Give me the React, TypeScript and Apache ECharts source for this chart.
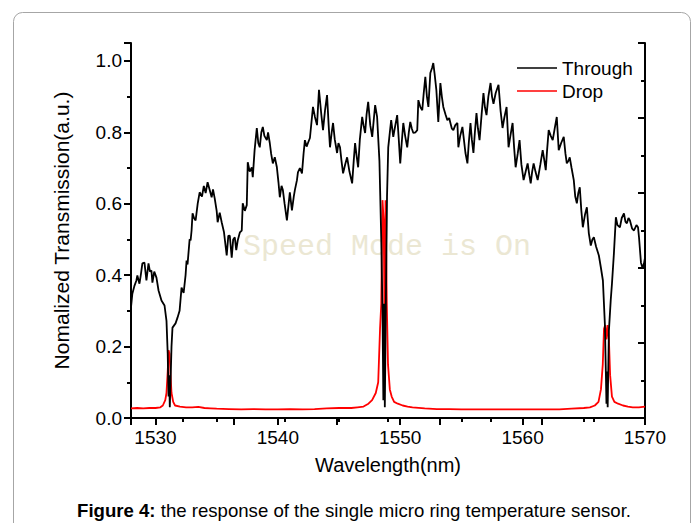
import React, { useEffect, useRef } from "react";
import * as echarts from "echarts";

const seriesNames = ["Through", "Drop"];
const seriesColors = ["#000000", "#ff0000"];

const throughPoints: [number, number][] = [
  [1528.0, 0.31], [1528.11, 0.348], [1528.28, 0.37], [1528.44, 0.385], [1528.52, 0.399], [1528.69, 0.376],
  [1528.8, 0.4], [1528.93, 0.433], [1529.1, 0.435], [1529.26, 0.385], [1529.43, 0.433], [1529.55, 0.41],
  [1529.67, 0.413], [1529.75, 0.379], [1529.9, 0.41], [1530.08, 0.393], [1530.25, 0.357], [1530.49, 0.329],
  [1530.74, 0.315], [1530.9, 0.272], [1531.0, 0.18], [1531.07, 0.06], [1531.12, 0.12], [1531.17, 0.03],
  [1531.23, 0.1], [1531.31, 0.2], [1531.39, 0.253], [1531.64, 0.265], [1531.8, 0.281], [1531.97, 0.3],
  [1532.13, 0.365], [1532.3, 0.35], [1532.46, 0.4], [1532.54, 0.441], [1532.62, 0.43], [1532.79, 0.5],
  [1532.87, 0.497], [1532.95, 0.525], [1533.03, 0.573], [1533.15, 0.56], [1533.28, 0.553], [1533.45, 0.6],
  [1533.61, 0.632], [1533.8, 0.62], [1533.95, 0.65], [1534.1, 0.63], [1534.26, 0.66], [1534.42, 0.64],
  [1534.59, 0.618], [1534.7, 0.64], [1534.84, 0.615], [1535.0, 0.58], [1535.08, 0.548], [1535.25, 0.575],
  [1535.41, 0.548], [1535.6, 0.52], [1535.82, 0.455], [1535.95, 0.51], [1536.07, 0.511], [1536.23, 0.449],
  [1536.35, 0.5], [1536.48, 0.506], [1536.6, 0.47], [1536.72, 0.497], [1536.9, 0.52], [1537.05, 0.525],
  [1537.13, 0.601], [1537.3, 0.58], [1537.46, 0.596], [1537.54, 0.716], [1537.7, 0.69], [1537.87, 0.702],
  [1537.95, 0.674], [1538.1, 0.75], [1538.28, 0.812], [1538.4, 0.77], [1538.52, 0.758], [1538.65, 0.8],
  [1538.77, 0.815], [1538.9, 0.79], [1539.1, 0.778], [1539.2, 0.8], [1539.34, 0.77], [1539.45, 0.74],
  [1539.59, 0.713], [1539.75, 0.73], [1539.92, 0.702], [1540.05, 0.66], [1540.16, 0.618], [1540.3, 0.65],
  [1540.41, 0.638], [1540.55, 0.6], [1540.74, 0.553], [1540.85, 0.59], [1540.98, 0.632], [1541.15, 0.581],
  [1541.3, 0.62], [1541.39, 0.638], [1541.56, 0.666], [1541.64, 0.688], [1541.8, 0.7], [1541.97, 0.685],
  [1542.1, 0.74], [1542.21, 0.778], [1542.35, 0.76], [1542.46, 0.77], [1542.62, 0.784], [1542.87, 0.871],
  [1543.03, 0.843], [1543.2, 0.82], [1543.36, 0.919], [1543.55, 0.85], [1543.69, 0.806], [1543.85, 0.86],
  [1544.02, 0.904], [1544.15, 0.82], [1544.26, 0.758], [1544.4, 0.8], [1544.51, 0.826], [1544.65, 0.78],
  [1544.84, 0.742], [1544.95, 0.77], [1545.08, 0.758], [1545.2, 0.72], [1545.33, 0.685], [1545.5, 0.71],
  [1545.66, 0.73], [1545.85, 0.69], [1546.07, 0.657], [1546.2, 0.72], [1546.31, 0.77], [1546.45, 0.73],
  [1546.56, 0.702], [1546.7, 0.78], [1546.89, 0.843], [1547.0, 0.82], [1547.13, 0.798], [1547.25, 0.85],
  [1547.38, 0.885], [1547.55, 0.82], [1547.71, 0.787], [1547.85, 0.84], [1547.95, 0.876], [1548.11, 0.843],
  [1548.3, 0.72], [1548.45, 0.5], [1548.55, 0.3], [1548.62, 0.05], [1548.68, 0.32], [1548.74, 0.03],
  [1548.82, 0.3], [1548.92, 0.62], [1549.02, 0.758], [1549.15, 0.8], [1549.26, 0.834], [1549.43, 0.787],
  [1549.6, 0.82], [1549.75, 0.848], [1549.88, 0.78], [1550.0, 0.713], [1550.12, 0.77], [1550.25, 0.826],
  [1550.4, 0.79], [1550.57, 0.758], [1550.7, 0.8], [1550.82, 0.829], [1550.95, 0.81], [1551.07, 0.798],
  [1551.25, 0.8], [1551.39, 0.806], [1551.48, 0.89], [1551.65, 0.87], [1551.8, 0.862], [1551.92, 0.91],
  [1552.05, 0.955], [1552.18, 0.9], [1552.3, 0.871], [1552.46, 0.966], [1552.6, 0.98], [1552.7, 0.994],
  [1552.82, 0.96], [1552.95, 0.919], [1553.11, 0.829], [1553.28, 0.938], [1553.4, 0.9], [1553.52, 0.871],
  [1553.7, 0.85], [1553.85, 0.834], [1554.0, 0.84], [1554.1, 0.826], [1554.22, 0.81], [1554.34, 0.806],
  [1554.5, 0.82], [1554.67, 0.826], [1554.75, 0.758], [1554.9, 0.79], [1555.08, 0.815], [1555.2, 0.78],
  [1555.33, 0.742], [1555.49, 0.713], [1555.6, 0.77], [1555.74, 0.826], [1555.85, 0.78], [1555.98, 0.742],
  [1556.1, 0.8], [1556.23, 0.854], [1556.35, 0.81], [1556.48, 0.778], [1556.65, 0.85], [1556.8, 0.91],
  [1556.92, 0.87], [1557.05, 0.848], [1557.2, 0.9], [1557.38, 0.938], [1557.5, 0.9], [1557.62, 0.88],
  [1557.8, 0.91], [1558.03, 0.933], [1558.2, 0.86], [1558.36, 0.812], [1558.5, 0.84], [1558.69, 0.871],
  [1558.85, 0.758], [1559.0, 0.79], [1559.18, 0.826], [1559.3, 0.76], [1559.43, 0.702], [1559.6, 0.74],
  [1559.75, 0.778], [1559.9, 0.71], [1560.08, 0.666], [1560.25, 0.69], [1560.41, 0.713], [1560.55, 0.68],
  [1560.66, 0.657], [1560.78, 0.69], [1560.9, 0.713], [1561.05, 0.69], [1561.23, 0.666], [1561.45, 0.71],
  [1561.64, 0.75], [1561.78, 0.72], [1561.89, 0.694], [1562.0, 0.75], [1562.13, 0.806], [1562.3, 0.79],
  [1562.46, 0.778], [1562.62, 0.81], [1562.79, 0.843], [1562.95, 0.75], [1563.15, 0.77], [1563.36, 0.787],
  [1563.5, 0.74], [1563.61, 0.713], [1563.75, 0.72], [1563.85, 0.73], [1564.0, 0.7], [1564.18, 0.666],
  [1564.3, 0.62], [1564.43, 0.601], [1564.55, 0.63], [1564.67, 0.646], [1564.8, 0.58], [1564.92, 0.534],
  [1565.1, 0.57], [1565.25, 0.59], [1565.41, 0.517], [1565.57, 0.483], [1565.7, 0.5], [1565.82, 0.506],
  [1566.0, 0.48], [1566.23, 0.455], [1566.4, 0.42], [1566.56, 0.385], [1566.72, 0.264], [1566.8, 0.13],
  [1566.85, 0.04], [1566.9, 0.13], [1566.95, 0.03], [1567.05, 0.244], [1567.2, 0.33], [1567.3, 0.376],
  [1567.46, 0.461], [1567.62, 0.562], [1567.75, 0.54], [1567.95, 0.534], [1568.1, 0.56], [1568.28, 0.573],
  [1568.4, 0.55], [1568.52, 0.545], [1568.65, 0.56], [1568.77, 0.553], [1568.95, 0.53], [1569.1, 0.525],
  [1569.3, 0.54], [1569.43, 0.534], [1569.51, 0.506], [1569.67, 0.435], [1569.8, 0.42], [1569.92, 0.433],
  [1570.0, 0.449],
];

const dropPoints: [number, number][] = [
  [1528.0, 0.027], [1528.5, 0.028], [1529.0, 0.027], [1529.5, 0.028], [1530.0, 0.028], [1530.4, 0.03],
  [1530.6, 0.035], [1530.8, 0.05], [1530.9, 0.07], [1531.0, 0.13], [1531.07, 0.19], [1531.15, 0.18],
  [1531.23, 0.12], [1531.31, 0.07], [1531.45, 0.045], [1531.6, 0.035], [1532.0, 0.032], [1532.5, 0.03],
  [1533.0, 0.03], [1533.5, 0.031], [1534.0, 0.028], [1534.5, 0.027], [1535.0, 0.026], [1536.0, 0.025],
  [1537.0, 0.024], [1538.0, 0.025], [1539.0, 0.024], [1540.0, 0.024], [1541.0, 0.025], [1542.0, 0.024],
  [1543.0, 0.025], [1544.0, 0.027], [1545.0, 0.028], [1546.0, 0.028], [1546.5, 0.03], [1547.0, 0.032],
  [1547.4, 0.04], [1547.7, 0.05], [1548.0, 0.07], [1548.2, 0.1], [1548.35, 0.25], [1548.45, 0.32],
  [1548.55, 0.61], [1548.65, 0.55], [1548.72, 0.25], [1548.8, 0.61], [1548.9, 0.32], [1549.0, 0.15],
  [1549.15, 0.08], [1549.3, 0.06], [1549.5, 0.045], [1549.8, 0.04], [1550.2, 0.035], [1550.6, 0.032],
  [1551.0, 0.03], [1552.0, 0.027], [1553.0, 0.025], [1554.0, 0.025], [1555.0, 0.024], [1556.0, 0.024],
  [1557.0, 0.024], [1558.0, 0.024], [1559.0, 0.024], [1560.0, 0.024], [1561.0, 0.024], [1562.0, 0.024],
  [1563.0, 0.024], [1564.0, 0.026], [1565.0, 0.028], [1565.5, 0.03], [1565.9, 0.035], [1566.2, 0.045],
  [1566.4, 0.08], [1566.55, 0.15], [1566.65, 0.25], [1566.75, 0.26], [1566.85, 0.22], [1566.95, 0.26],
  [1567.05, 0.22], [1567.15, 0.12], [1567.3, 0.06], [1567.5, 0.045], [1567.8, 0.04], [1568.2, 0.035],
  [1568.6, 0.032], [1569.0, 0.03], [1569.5, 0.03], [1570.0, 0.032],
];

const xTitle = "Wavelength(nm)";
const yTitle = "Nomalized Transmission(a.u.)";
const captionBold = "Figure 4:";
const captionText = " the response of the single micro ring temperature sensor.";
const watermark = "Speed Mode is On";

const FONT = "'Liberation Sans', Arial, sans-serif";

export default function App() {
  const ref = useRef<HTMLDivElement>(null);
  useEffect(() => {
    document.body.style.margin = "0";
    if (!ref.current) return;
    const chart = echarts.init(ref.current, null, { renderer: "svg" });
    const axisLine = { show: true, lineStyle: { color: "#000", width: 2 } };
    const tickStyle = { color: "#000", width: 2 };
    chart.setOption({
      animation: false,
      backgroundColor: "#fff",
      grid: { left: 131, top: 43, width: 514, height: 375, containLabel: false },
      xAxis: [
        {
          type: "value",
          min: 1528,
          max: 1570,
          position: "bottom",
          axisLine,
          axisTick: { show: true, inside: false, length: 7, lineStyle: tickStyle },
          minorTick: { show: true, splitNumber: 2, length: 4, lineStyle: tickStyle },
          splitLine: { show: false },
          minorSplitLine: { show: false },
          axisLabel: {
            fontSize: 19,
            color: "#000",
            fontFamily: FONT,
            margin: 10,
            showMinLabel: false,
            formatter: (v: number) => String(v),
          },
          name: xTitle,
          nameLocation: "middle",
          nameGap: 37,
          nameTextStyle: { fontSize: 20, color: "#000", fontFamily: FONT },
        },
        {
          type: "value",
          min: 0,
          max: 1,
          interval: 0.2,
          position: "top",
          axisLine,
          axisTick: { show: true, inside: true, length: 7, lineStyle: tickStyle },
          minorTick: { show: true, splitNumber: 2, length: 4, lineStyle: tickStyle },
          splitLine: { show: false },
          axisLabel: { show: false },
        },
      ],
      yAxis: [
        {
          type: "value",
          min: 0,
          max: 1.05,
          interval: 0.2,
          position: "left",
          axisLine,
          axisTick: { show: true, inside: false, length: 7, lineStyle: tickStyle },
          minorTick: { show: true, splitNumber: 2, length: 4, lineStyle: tickStyle },
          splitLine: { show: false },
          axisLabel: {
            fontSize: 19,
            color: "#000",
            fontFamily: FONT,
            margin: 9,
            showMaxLabel: false,
            formatter: (v: number) => v.toFixed(1),
          },
          name: yTitle,
          nameLocation: "middle",
          nameGap: 59,
          nameRotate: 90,
          nameTextStyle: { fontSize: 21, color: "#000", fontFamily: FONT },
        },
        {
          type: "value",
          min: 0,
          max: 1,
          interval: 0.2,
          position: "right",
          axisLine,
          axisTick: { show: true, inside: true, length: 7, lineStyle: tickStyle },
          minorTick: { show: true, splitNumber: 2, length: 4, lineStyle: tickStyle },
          splitLine: { show: false },
          axisLabel: { show: false },
        },
      ],
      series: [
        {
          name: seriesNames[1],
          type: "line",
          xAxisIndex: 0,
          yAxisIndex: 0,
          data: dropPoints,
          showSymbol: false,
          symbol: "none",
          lineStyle: { color: seriesColors[1], width: 1.8 },
          clip: true,
        },
        {
          name: seriesNames[0],
          type: "line",
          xAxisIndex: 0,
          yAxisIndex: 0,
          data: throughPoints,
          showSymbol: false,
          symbol: "none",
          lineStyle: { color: seriesColors[0], width: 1.8 },
          clip: true,
        },
      ],
      graphic: [
        {
          type: "rect",
          silent: true,
          z: -10,
          shape: { x: 13.5, y: 12.5, width: 677, height: 540, r: 9 },
          style: { fill: "none", stroke: "#a6a6a6", lineWidth: 1 },
        },
        {
          type: "text",
          silent: true,
          z: 1,
          x: 243,
          y: 247,
          style: {
            text: watermark,
            font: "30px 'Courier New', 'Liberation Mono', monospace",
            fill: "#ebe7d3",
            textAlign: "left",
            textVerticalAlign: "middle",
          },
        },
        {
          type: "line",
          silent: true,
          z: 20,
          shape: { x1: 517, y1: 68, x2: 557, y2: 68 },
          style: { stroke: seriesColors[0], lineWidth: 1.6 },
        },
        {
          type: "text",
          silent: true,
          z: 20,
          x: 562,
          y: 68,
          style: {
            text: seriesNames[0],
            font: `19px ${FONT}`,
            fill: "#000",
            textAlign: "left",
            textVerticalAlign: "middle",
          },
        },
        {
          type: "line",
          silent: true,
          z: 20,
          shape: { x1: 517, y1: 91, x2: 557, y2: 91 },
          style: { stroke: seriesColors[1], lineWidth: 1.6 },
        },
        {
          type: "text",
          silent: true,
          z: 20,
          x: 562,
          y: 91,
          style: {
            text: seriesNames[1],
            font: `19px ${FONT}`,
            fill: "#000",
            textAlign: "left",
            textVerticalAlign: "middle",
          },
        },
        {
          type: "text",
          silent: true,
          z: 20,
          x: 354,
          y: 510,
          style: {
            text: `{b|${captionBold}}{n|${captionText}}`,
            textAlign: "center",
            textVerticalAlign: "middle",
            rich: {
              b: { fontSize: 18.6, fontWeight: "bold", fontFamily: FONT, fill: "#000", color: "#000" },
              n: { fontSize: 18.6, fontFamily: FONT, fill: "#000", color: "#000" },
            },
          },
        },
      ],
    });
    return () => chart.dispose();
  }, []);
  return <div ref={ref} style={{ width: 697, height: 523 }} />;
}
